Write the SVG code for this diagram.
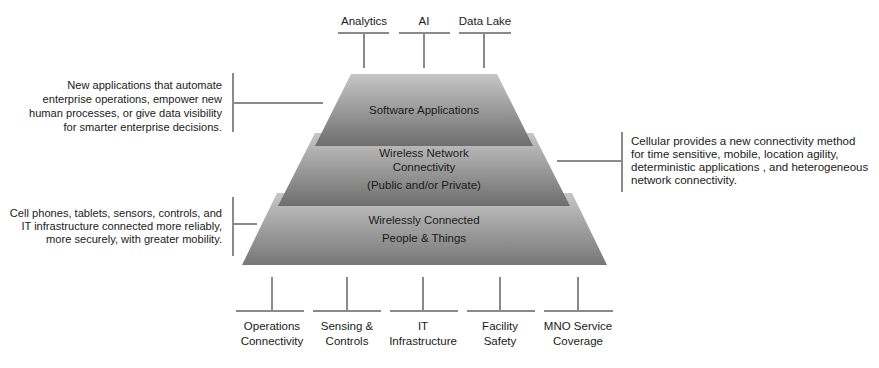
<svg xmlns="http://www.w3.org/2000/svg" width="879" height="368" viewBox="0 0 879 368">
<style>
text{font-family:"Liberation Sans",Arial,sans-serif;font-size:11.5px;fill:#1a1a1a}
.c{text-anchor:middle}
.r{text-anchor:end;font-size:11.1px}
.ln{stroke:#8a8a8a;stroke-width:2;fill:none}
</style>
<defs>
<linearGradient id="g" x1="0" y1="0" x2="0" y2="1">
<stop offset="0" stop-color="#c6c6c6"/>
<stop offset="1" stop-color="#6e6e6e"/>
</linearGradient>
<linearGradient id="g2" x1="0" y1="0" x2="0" y2="1">
<stop offset="0" stop-color="#c6c6c6"/>
<stop offset="1" stop-color="#777777"/>
</linearGradient>
</defs>
<rect width="879" height="368" fill="#ffffff"/>
<g id="connectors" class="ln">
<path d="M338 33H389M364 33V68"/>
<path d="M399 33H450M424 33V68"/>
<path d="M459 33H511M484 33V68"/>
<path d="M233 73V132M233 103H323"/>
<path d="M233 197V256M233 224H257"/>
<path d="M622 132V192M557 161H622"/>
<path d="M236 311H304M272 277V311"/>
<path d="M313 311H381M347 277V311"/>
<path d="M390 311H458M423 277V311"/>
<path d="M467 311H535M500 277V311"/>
<path d="M544 311H613M578 277V311"/>
</g>
<g id="layer-people-things">
<polygon points="277,193 572,193 607,265 242,265" fill="url(#g2)"/>
<text class="c" x="424" y="224">Wirelessly Connected</text>
<text class="c" x="424" y="242">People &amp; Things</text>
</g>
<g id="layer-wireless-network">
<polygon points="315,133 533,133 570,206 278,206" fill="url(#g)"/>
<text class="c" x="424" y="157">Wireless Network</text>
<text class="c" x="424" y="171">Connectivity</text>
<text class="c" x="424" y="189">(Public and/or Private)</text>
</g>
<g id="layer-software">
<polygon points="351,74 497,74 533,146 315,146" fill="url(#g)"/>
<text class="c" x="424" y="114">Software Applications</text>
</g>
<g id="label-analytics"><text class="c" x="364" y="25">Analytics</text></g>
<g id="label-ai"><text class="c" x="424" y="25">AI</text></g>
<g id="label-datalake"><text class="c" x="485" y="25">Data Lake</text></g>
<g id="desc-software">
<text class="r" x="222" y="89">New applications that automate</text>
<text class="r" x="222" y="103">enterprise operations, empower new</text>
<text class="r" x="222" y="117">human processes, or give data visibility</text>
<text class="r" x="222" y="131">for smarter enterprise decisions.</text>
</g>
<g id="desc-people">
<text class="r" x="222" y="217">Cell phones, tablets, sensors, controls, and</text>
<text class="r" x="222" y="230">IT infrastructure connected more reliably,</text>
<text class="r" x="222" y="243">more securely, with greater mobility.</text>
</g>
<g id="desc-network">
<text x="631" y="145">Cellular provides a new connectivity method</text>
<text x="631" y="158">for time sensitive, mobile, location agility,</text>
<text x="631" y="171">deterministic applications , and heterogeneous</text>
<text x="631" y="184">network connectivity.</text>
</g>
<g id="label-operations"><text class="c" x="272" y="330">Operations</text><text class="c" x="272" y="345">Connectivity</text></g>
<g id="label-sensing"><text class="c" x="347" y="330">Sensing &amp;</text><text class="c" x="347" y="345">Controls</text></g>
<g id="label-it"><text class="c" x="423" y="330">IT</text><text class="c" x="423" y="345">Infrastructure</text></g>
<g id="label-facility"><text class="c" x="500" y="330">Facility</text><text class="c" x="500" y="345">Safety</text></g>
<g id="label-mno"><text class="c" x="578" y="330">MNO Service</text><text class="c" x="578" y="345">Coverage</text></g>
</svg>
